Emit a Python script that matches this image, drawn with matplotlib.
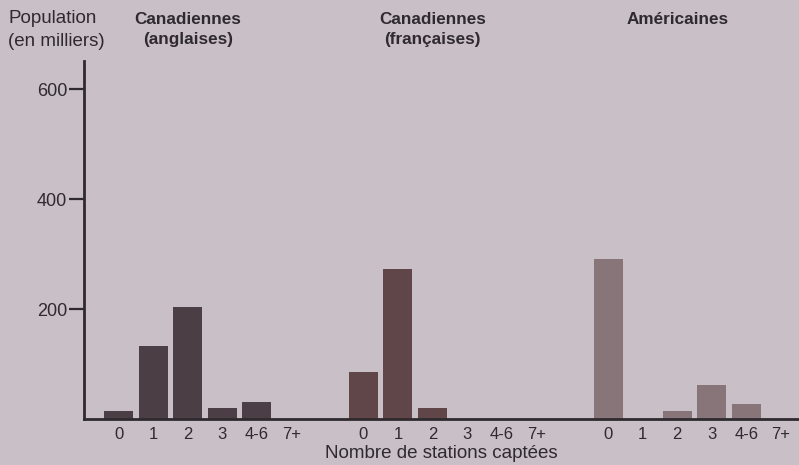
import matplotlib
matplotlib.use("Agg")
import matplotlib.pyplot as plt
import matplotlib.transforms as mtransforms
import numpy as np

plt.rcParams['font.family'] = ['Liberation Sans', 'DejaVu Sans']

# Données : population (en milliers) selon le nombre de stations captées
stations = ["0", "1", "2", "3", "4-6", "7+"]
groupes = ["Canadiennes\n(anglaises)", "Canadiennes\n(françaises)", "Américaines"]
anglaises = [15, 133, 204, 20, 31, 0]
francaises = [85, 273, 20, 0, 0, 0]
americaines = [291, 0, 15, 62, 27, 0]
valeurs = [anglaises, francaises, americaines]
couleurs = ["#4b3e44", "#614649", "#877579"]
yticks = [200, 400, 600]

fond = "#c9bfc6"
encre = "#2e2a2e"

fig = plt.figure(figsize=(7.99, 4.65), dpi=100, facecolor=fond)
ax = fig.add_axes([84 / 799, 1 - 419 / 465, 1 - 84 / 799, (419 - 61) / 465])
ax.set_facecolor(fond)

# titres placés en x (données) et en y (figure)
trans_titre = mtransforms.blended_transform_factory(ax.transData, fig.transFigure)

pas_groupe = 7.08
positions = []
etiquettes = []
for g, (vals, coul) in enumerate(zip(valeurs, couleurs)):
    x = g * pas_groupe + np.arange(len(stations))
    ax.bar(x, vals, width=0.84, color=coul, edgecolor="none", zorder=2)
    positions.extend(x)
    etiquettes.extend(stations)
    ax.text(g * pas_groupe + 2.0, 1 - 12 / 465, groupes[g], ha="center",
            va="top", fontsize=12.3, fontweight="bold", color=encre,
            linespacing=1.45, transform=trans_titre, clip_on=False)

ax.set_xlim(-1.0, 19.68)
ax.set_ylim(0, 651)
ax.set_xticks(positions)
ax.set_xticklabels(etiquettes, fontsize=12, color=encre)
ax.tick_params(axis="x", length=0, pad=6)
ax.set_yticks(yticks)
ax.set_yticklabels([str(v) for v in yticks], fontsize=13, color=encre)
ax.tick_params(axis="y", direction="out", length=10.5, width=1.6, color=encre,
               pad=1.5)

for side in ["top", "right"]:
    ax.spines[side].set_visible(False)
for side in ["left", "bottom"]:
    ax.spines[side].set_color(encre)
    ax.spines[side].set_linewidth(2)

ax.set_xlabel("Nombre de stations captées", fontsize=13.5, color=encre,
              labelpad=2)
fig.text(8 / 799, 1 - 10 / 465, "Population\n(en milliers)", ha="left",
         va="top", fontsize=13.5, color=encre, linespacing=1.45)

fig.savefig("out.png", dpi=100, facecolor=fond)
